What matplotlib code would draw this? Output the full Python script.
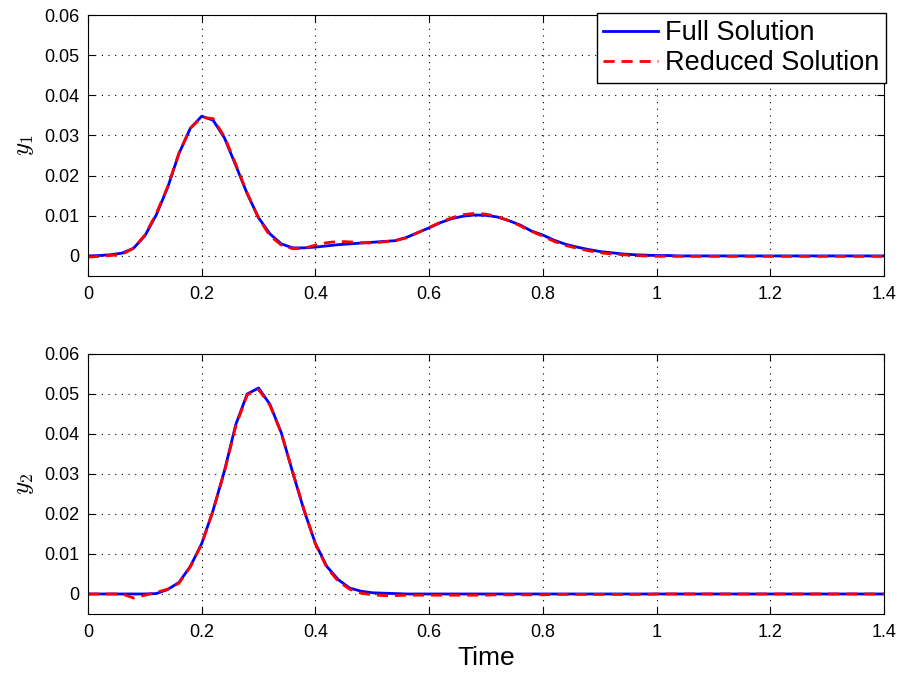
"""
Full vs reduced solution for the two outputs y1, y2 over time
"""

import numpy as np
import matplotlib
matplotlib.use('Agg')
import matplotlib.pyplot as plt

time = np.round(np.arange(0, 1.4001, 0.02), 2)

y1_full = [0.0, 0.0001, 0.0003, 0.0007, 0.0019, 0.0050, 0.0102, 0.0170, 0.0255, 0.0318,
           0.0348, 0.0338, 0.0294, 0.0225, 0.0155, 0.0095, 0.0055, 0.0030, 0.0020, 0.0020,
           0.0022, 0.0025, 0.0028, 0.0030, 0.0032, 0.0034, 0.0036, 0.0038, 0.0046, 0.0058,
           0.0070, 0.0083, 0.0093, 0.0099, 0.0102, 0.0101, 0.0097, 0.0088, 0.0077, 0.0062,
           0.0052, 0.0039, 0.0029, 0.0022, 0.0016, 0.0011, 0.0008, 0.0005, 0.0003, 0.0002,
           0.0001, 0.0001, 0.0, 0.0, 0.0, 0.0, 0.0, 0.0, 0.0, 0.0,
           0.0, 0.0, 0.0, 0.0, 0.0, 0.0, 0.0, 0.0, 0.0, 0.0, 0.0]

y1_reduced = [-0.0003, -0.0001, 0.0001, 0.0004, 0.0019, 0.0052, 0.0105, 0.0172, 0.0256, 0.0318,
              0.0345, 0.0342, 0.0297, 0.0228, 0.0156, 0.0094, 0.0050, 0.0027, 0.0018, 0.0019,
              0.0027, 0.0033, 0.0036, 0.0035, 0.0033, 0.0032, 0.0035, 0.0038, 0.0045, 0.0058,
              0.0071, 0.0084, 0.0095, 0.0103, 0.0106, 0.0104, 0.0098, 0.0088, 0.0075, 0.0061,
              0.0049, 0.0036, 0.0026, 0.0019, 0.0013, 0.0008, 0.0005, 0.0003, 0.0001, 0.0,
              -0.0001, -0.0001, -0.0001, -0.0001, -0.0001, -0.0001, -0.0001, -0.0001, -0.0001, -0.0001,
              -0.0001, -0.0001, -0.0001, -0.0001, -0.0001, -0.0001, -0.0001, -0.0001, -0.0001, -0.0001, -0.0001]

y2_full = [0.0, 0.0, 0.0, 0.0, 0.0, 0.0, 0.0001, 0.0011, 0.0029, 0.0069,
           0.0126, 0.0209, 0.0308, 0.0424, 0.0500, 0.0515, 0.0474, 0.0403, 0.0304, 0.0209,
           0.0126, 0.0069, 0.0036, 0.0015, 0.0007, 0.0003, 0.0002, 0.0001, 0.0, 0.0,
           0.0, 0.0, 0.0, 0.0, 0.0, 0.0, 0.0, 0.0, 0.0, 0.0,
           0.0, 0.0, 0.0, 0.0, 0.0, 0.0, 0.0, 0.0, 0.0, 0.0,
           0.0, 0.0, 0.0, 0.0, 0.0, 0.0, 0.0, 0.0, 0.0, 0.0,
           0.0, 0.0, 0.0, 0.0, 0.0, 0.0, 0.0, 0.0, 0.0, 0.0, 0.0]

y2_reduced = [0.0, 0.0, 0.0, 0.0, -0.0010, -0.0003, 0.0004, 0.0012, 0.0027, 0.0068,
              0.0125, 0.0208, 0.0306, 0.0420, 0.0498, 0.0511, 0.0472, 0.0402, 0.0305, 0.0211,
              0.0125, 0.0066, 0.0032, 0.0012, 0.0002, -0.0002, -0.0004, -0.0004, -0.0003, -0.0003,
              -0.0003, -0.0003, -0.0003, -0.0003, -0.0003, -0.0003, -0.0002, -0.0002, -0.0002, -0.0002,
              -0.0002, -0.0001, -0.0001, -0.0001, -0.0001, -0.0001, -0.0001, -0.0001, -0.0001, -0.0001,
              0.0, 0.0, 0.0, 0.0, 0.0, 0.0, 0.0, 0.0, 0.0, 0.0,
              0.0, 0.0, 0.0, 0.0, 0.0, 0.0, 0.0, 0.0, 0.0, 0.0, 0.0]

x_ticks = [0, 0.2, 0.4, 0.6, 0.8, 1, 1.2, 1.4]
x_ticklabels = ['0', '0.2', '0.4', '0.6', '0.8', '1', '1.2', '1.4']
y_ticks = [0, 0.01, 0.02, 0.03, 0.04, 0.05, 0.06]
y_ticklabels = ['0', '0.01', '0.02', '0.03', '0.04', '0.05', '0.06']

plt.rcParams['font.family'] = ['Liberation Sans', 'DejaVu Sans']
plt.rcParams['mathtext.fontset'] = 'cm'


def style_axes(ax, ylabel):
    ax.set_xlim(0, 1.4)
    ax.set_ylim(-0.005, 0.06)
    ax.set_xticks(x_ticks)
    ax.set_xticklabels(x_ticklabels)
    ax.set_yticks(y_ticks)
    ax.set_yticklabels(y_ticklabels)
    ax.tick_params(direction='in', top=True, right=True, labelsize=13, length=5, width=0.8)
    ax.tick_params(axis='x', pad=7.5)
    ax.tick_params(axis='y', pad=6)
    ax.grid(True, linestyle=(0, (1, 5)), color='k', linewidth=0.8)
    for s in ax.spines.values():
        s.set_linewidth(0.8)
    ax.set_ylabel(ylabel, fontsize=18, labelpad=6)


fig = plt.figure(figsize=(8.97, 6.73), dpi=100)
ax1 = fig.add_axes([0.0981, 0.5899, 0.8874, 0.3878])
ax2 = fig.add_axes([0.0981, 0.0877, 0.8874, 0.3863])

ax1.plot(time, y1_full, 'b-', lw=2.0, label='Full Solution')
ax1.plot(time, y1_reduced, 'r--', lw=2.0, dashes=(4, 2.5), label='Reduced Solution')
style_axes(ax1, r'$y_1$')
leg = ax1.legend(loc='upper right', bbox_to_anchor=(1.002, 1.006), borderaxespad=0,
                 fontsize=19.5, fancybox=False, framealpha=1, edgecolor='k',
                 handlelength=2.0, handletextpad=0.26, borderpad=0.25, labelspacing=0.15)
leg.get_frame().set_linewidth(1.0)

ax2.plot(time, y2_full, 'b-', lw=2.0)
ax2.plot(time, y2_reduced, 'r--', lw=2.0, dashes=(4, 2.5))
style_axes(ax2, r'$y_2$')
ax2.set_xlabel('Time', fontsize=19, labelpad=3)

fig.savefig('out.png', dpi=100)

# -fin-
